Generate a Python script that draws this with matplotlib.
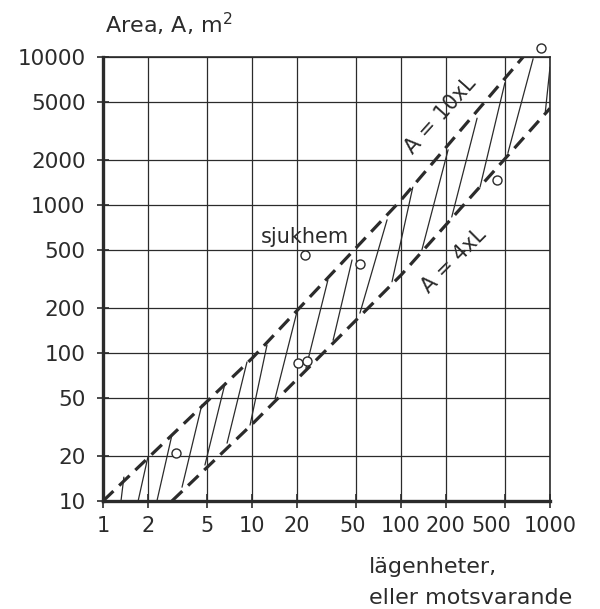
import numpy as np
import matplotlib
matplotlib.use('Agg')
import matplotlib.pyplot as plt
from matplotlib.transforms import ScaledTranslation

# tick values
x_ticks = [1, 2, 5, 10, 20, 50, 100, 200, 500, 1000]
y_ticks = [10, 20, 50, 100, 200, 500, 1000, 2000, 5000, 10000]

# boundary lines (L, A)
upper_L = [1, 10, 100, 660]
upper_A = [10, 92, 1080, 10000]
lower_L = [2.9, 10, 100, 1000]
lower_A = [10, 33, 336, 4500]

# hatch strokes: bottom (L, A) -> top (L, A)
hatch_L0 = [1.32, 1.72, 2.3, 3.39, 4.83, 6.8, 9.7, 14.3, 23, 35, 53, 87, 138, 219, 339, 522, 930]
hatch_A0 = [10, 10, 10, 12.4, 17.5, 24.6, 32.6, 49.6, 79, 122, 186, 303, 496, 830, 1320, 2250, 4260]
hatch_L1 = [1.38, 2.0, 2.9, 4.6, 6.6, 9.25, 12.6, 20.0, 32.3, 46.9, 80.6, 120, 207, 324, 498, 770, 1000]
hatch_A1 = [14.5, 19.8, 27.9, 44.5, 62.7, 87, 113, 189, 311, 425, 794, 1320, 2360, 3860, 6700, 9730, 8560]

# observed objects
obs_L = [3.1, 22.7, 53, 20.4, 23.4, 440, 870]
obs_A = [21, 460, 400, 86, 88, 1480, 11500]

ink = '#2b2b2b'
plt.rcParams['font.family'] = ['DejaVu Sans']
plt.rcParams['mathtext.default'] = 'regular'

fig = plt.figure(figsize=(6.0, 6.09), dpi=100)
ax = fig.add_axes([0.1717, 0.1773, 0.745, 0.7291])
ax.set_xscale('log')
ax.set_yscale('log')
ax.set_xlim(1, 1000)
ax.set_ylim(10, 10000)

ax.grid(True, which='major', color=ink, lw=0.9)
ax.set_axisbelow(True)

for l0, a0, l1, a1 in zip(hatch_L0, hatch_A0, hatch_L1, hatch_A1):
    ax.plot([l0, l1], [a0, a1], color=ink, lw=0.9, solid_capstyle='round')

ax.plot(upper_L, upper_A, color=ink, lw=2.3, dashes=(4.5, 2.5))
ax.plot(lower_L, lower_A, color=ink, lw=2.3, dashes=(4.5, 2.5))

ax.plot(obs_L, obs_A, 'o', ms=6.5, mfc='white', mec=ink, mew=1.0,
        clip_on=False, zorder=5)

ax.text(22.7, 610, 'sjukhem', fontsize=15, color=ink, ha='center', va='center')
ax.text(185, 4000, 'A = 10xL', fontsize=15, color=ink, ha='center', va='center',
        rotation=48, rotation_mode='anchor')
ax.text(228, 420, 'A = 4xL', fontsize=15, color=ink, ha='center', va='center',
        rotation=45, rotation_mode='anchor')

ax.set_xticks(x_ticks)
ax.set_xticklabels([str(v) for v in x_ticks])
ax.set_yticks(y_ticks)
ax.set_yticklabels([str(v) for v in y_ticks])
ax.minorticks_off()
ax.tick_params(axis='x', direction='inout', length=10, width=1.2, color=ink,
               labelsize=15, labelcolor=ink, pad=6)
ax.tick_params(axis='y', direction='inout', length=9, width=1.2, color=ink,
               labelsize=15.5, labelcolor=ink, pad=8)

# crowded labels at the right end, nudged like the original
shifts = {'50': -4, '500': -14}
for lab in ax.get_xticklabels():
    dx = shifts.get(lab.get_text(), 0)
    if dx:
        lab.set_transform(lab.get_transform() + ScaledTranslation(dx / 100, 0, fig.dpi_scale_trans))

for side in ['left', 'bottom']:
    ax.spines[side].set_linewidth(2.4)
    ax.spines[side].set_color(ink)
for side in ['top', 'right']:
    ax.spines[side].set_linewidth(1.2)
    ax.spines[side].set_color(ink)

fig.text(105 / 600, 1 - 33 / 609, 'Area, A, m$^{2}$', fontsize=16, color=ink,
         ha='left', va='baseline')
fig.text(369 / 600, 1 - 567 / 609, 'lägenheter,', fontsize=16, color=ink,
         ha='left', va='center')
fig.text(369 / 600, 1 - 598 / 609, 'eller motsvarande', fontsize=16, color=ink,
         ha='left', va='center')

fig.savefig('out.png', dpi=100)
